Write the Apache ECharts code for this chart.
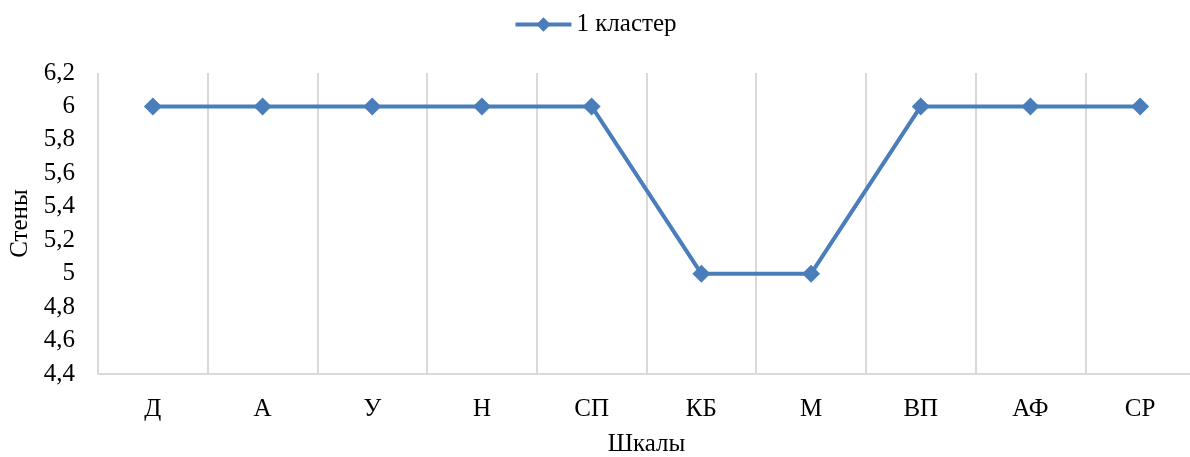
<!DOCTYPE html>
<html>
<head>
<meta charset="utf-8">
<script src="https://cdn.jsdelivr.net/npm/echarts@6/dist/echarts.min.js"></script>
<style>
    html, body { margin: 0; padding: 0; background: #fff; }
    #main { width: 1190px; height: 457px; }
</style>
</head>
<body>
<div id="main"></div>
<script>
const categories = ['Д', 'А', 'У', 'Н', 'СП', 'КБ', 'М', 'ВП', 'АФ', 'СР'];
const cluster1 = [6, 6, 6, 6, 6, 5, 5, 6, 6, 6];
const seriesName = '1 кластер';

const font = 'Liberation Serif, Times New Roman, serif';
const chart = echarts.init(document.getElementById('main'));

chart.setOption({
    animation: false,
    textStyle: { fontFamily: font },
    legend: {
        top: 7,
        left: 'center',
        itemWidth: 56,
        itemHeight: 18,
        itemGap: 10,
        lineStyle: { width: 4 },
        textStyle: { fontFamily: font, fontSize: 25, color: '#000' },
        data: [seriesName]
    },
    grid: { left: 98, right: -5, top: 73, bottom: 83, containLabel: false, outerBoundsMode: 'none' },
    xAxis: {
        type: 'category',
        data: categories,
        boundaryGap: true,
        name: 'Шкалы',
        nameLocation: 'middle',
        nameGap: 58,
        nameTextStyle: { fontFamily: font, fontSize: 25, color: '#000' },
        axisLine: { lineStyle: { color: '#d9d9d9', width: 2 } },
        axisTick: { show: false },
        axisLabel: { fontFamily: font, fontSize: 25, color: '#000', margin: 23 },
        splitLine: { show: true, lineStyle: { color: '#d9d9d9', width: 2 } }
    },
    yAxis: {
        type: 'value',
        min: 4.4,
        max: 6.2,
        interval: 0.2,
        name: 'Стены',
        nameLocation: 'middle',
        nameGap: 57,
        nameTextStyle: { fontFamily: font, fontSize: 25, color: '#000' },
        axisLine: { show: false },
        axisTick: { show: false },
        splitLine: { show: false },
        axisLabel: {
            fontFamily: font, fontSize: 25, color: '#000', margin: 23,
            formatter: v => String(+v.toFixed(1)).replace('.', ',')
        }
    },
    series: [{
        name: seriesName,
        type: 'line',
        data: cluster1,
        symbol: 'diamond',
        symbolSize: 18,
        lineStyle: { color: '#4a7ebb', width: 4 },
        itemStyle: { color: '#4a7ebb' }
    }]
});
</script>
</body>
</html>
